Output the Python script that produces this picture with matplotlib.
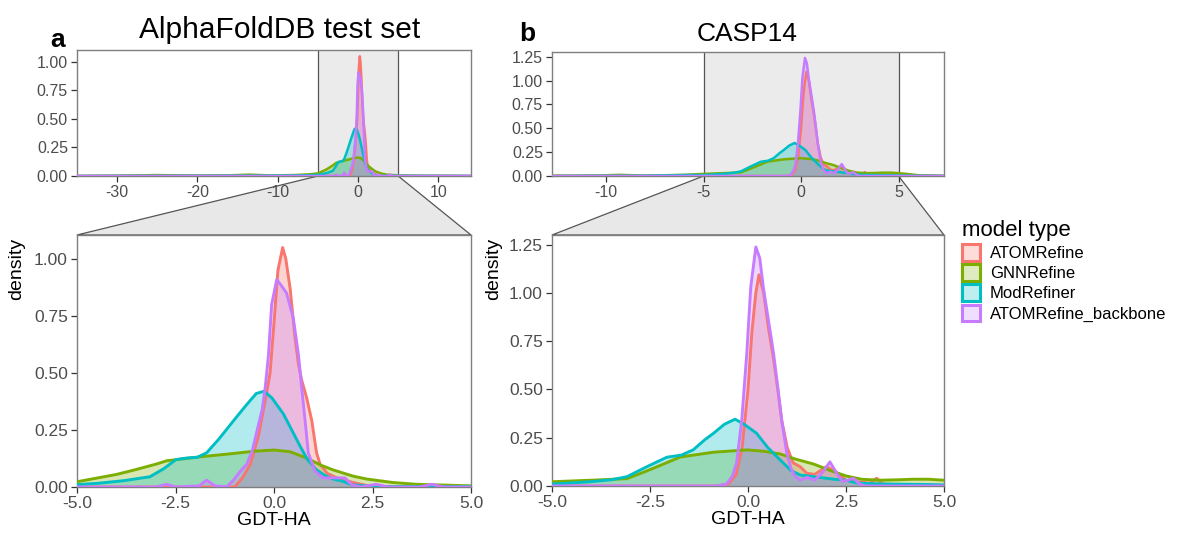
"""Density of GDT-HA change per refinement model: AlphaFoldDB test set and CASP14, with zoomed insets."""
import matplotlib
matplotlib.use("Agg")
import matplotlib.pyplot as plt
from matplotlib.patches import Polygon, Patch
from matplotlib.colors import to_rgba

plt.rcParams["font.family"] = ["Liberation Sans", "DejaVu Sans"]
plt.rcParams["axes.unicode_minus"] = False

MODELS = ["ATOMRefine", "GNNRefine", "ModRefiner", "ATOMRefine_backbone"]
COLORS = ["#F8766D", "#7CAE00", "#00BFC4", "#C77CFF"]
TICK_CLR = "#4D4D4D"
BORDER = "#7F7F7F"
ZOOM_BG = "#EBEBEB"

# ── AlphaFoldDB test set (densities) ─────────────────────────────────────────
AF_ATOM_X = [-35, -5, -1.3, -1.0, -0.8, -0.6, -0.4, -0.2, -0.1, 0.0, 0.1, 0.22, 0.3, 0.41,
             0.53, 0.62, 0.70, 0.83, 0.96, 1.08, 1.17, 1.35, 1.6, 2.0, 2.4, 3.0, 14]
AF_ATOM_Y = [0, 0, 0, 0.0, 0.04, 0.10, 0.22, 0.40, 0.50, 0.72, 0.95, 1.05, 1.0, 0.87,
             0.66, 0.54, 0.47, 0.39, 0.29, 0.15, 0.10, 0.06, 0.04, 0.02, 0.005, 0, 0]

AF_GNN_X = [-35, -30, -25, -20, -16, -13.5, -11, -8, -6, -5, -4, -3.56, -3, -2.72, -2,
            -1.03, -0.5, 0.0, 0.4, 0.84, 1.2, 1.5, 2.0, 2.35, 3.0, 3.6, 5, 8, 14]
AF_GNN_Y = [0, 0.003, 0.008, 0.004, 0.006, 0.012, 0.005, 0.008, 0.015, 0.023, 0.055, 0.074,
            0.10, 0.115, 0.13, 0.147, 0.157, 0.162, 0.155, 0.126, 0.095, 0.075, 0.048, 0.035,
            0.02, 0.012, 0.005, 0.002, 0]

AF_MOD_X = [-35, -10, -7, -5, -4.42, -3.8, -3.15, -2.8, -2.49, -2.22, -1.95, -1.71, -1.4,
            -1.03, -0.7, -0.45, -0.25, -0.05, 0.24, 0.45, 0.66, 0.85, 1.08, 1.3, 1.5, 1.75,
            1.97, 2.5, 14]
AF_MOD_Y = [0, 0.003, 0.005, 0.01, 0.017, 0.028, 0.045, 0.08, 0.12, 0.127, 0.13, 0.15, 0.21,
            0.29, 0.36, 0.41, 0.42, 0.39, 0.32, 0.25, 0.18, 0.12, 0.075, 0.05, 0.035, 0.025,
            0.01, 0.002, 0]

AF_BB_X = [-35, -3.0, -2.72, -2.5, -1.9, -1.71, -1.5, -1.2, -1.03, -0.85, -0.69, -0.55, -0.44,
           -0.3, -0.22, -0.14, -0.06, 0.07, 0.2, 0.32, 0.49, 0.62, 0.70, 0.79, 0.87, 1.04,
           1.24, 1.5, 1.8, 1.97, 2.2, 2.6, 2.9, 3.7, 4.0, 4.3, 14]
AF_BB_Y = [0, 0, 0.012, 0, 0.005, 0.03, 0.005, 0, 0.03, 0.07, 0.10, 0.16, 0.24, 0.34, 0.44,
           0.58, 0.80, 0.91, 0.88, 0.85, 0.74, 0.58, 0.44, 0.29, 0.15, 0.07, 0.04, 0.04,
           0.04, 0.01, 0, 0.012, 0, 0, 0.012, 0, 0]

# ── CASP14 ───────────────────────────────────────────────────────────────────
CA_ATOM_X = [-12.8, -0.8, -0.5, -0.3, -0.15, 0.0, 0.1, 0.2, 0.28, 0.4, 0.52, 0.65, 0.76,
             0.86, 1.0, 1.15, 1.33, 1.5, 1.7, 2.0, 2.2, 2.5, 2.9, 3.1, 3.28, 3.45, 4.0, 7.3]
CA_ATOM_Y = [0, 0, 0.01, 0.06, 0.20, 0.50, 0.80, 1.0, 1.094, 1.0, 0.82, 0.66, 0.50, 0.34,
             0.20, 0.12, 0.10, 0.066, 0.06, 0.10, 0.08, 0.03, 0.02, 0.015, 0.04, 0.01, 0.005, 0]

CA_GNN_X = [-12.8, -10.5, -9.3, -8, -6, -5, -4, -3.09, -2.58, -2.2, -1.73, -0.88, -0.03,
            0.4, 0.82, 1.2, 1.67, 2.1, 2.5, 2.9, 3.35, 3.8, 4.2, 4.6, 5, 5.5, 6, 7.3]
CA_GNN_Y = [0.003, 0.005, 0.012, 0.004, 0.012, 0.022, 0.03, 0.038, 0.078, 0.11, 0.15, 0.175,
            0.187, 0.18, 0.166, 0.14, 0.114, 0.08, 0.052, 0.035, 0.03, 0.032, 0.035, 0.035,
            0.03, 0.02, 0.008, 0.003]

CA_MOD_X = [-12.8, -8, -6, -5, -4.03, -3.5, -3.09, -2.58, -2.07, -1.7, -1.4, -1.1, -0.88,
            -0.6, -0.33, -0.1, 0.22, 0.5, 0.82, 1.1, 1.33, 1.8, 2.2, 2.5, 2.8, 3.5, 4.5,
            5.5, 7.3]
CA_MOD_Y = [0, 0.003, 0.01, 0.01, 0.022, 0.032, 0.048, 0.10, 0.149, 0.16, 0.187, 0.24, 0.273,
            0.32, 0.346, 0.32, 0.273, 0.20, 0.135, 0.08, 0.057, 0.045, 0.035, 0.03, 0.015,
            0.01, 0.008, 0.003, 0]

CA_BB_X = [-12.8, -0.8, -0.55, -0.4, -0.29, -0.16, -0.03, 0.07, 0.20, 0.30, 0.39, 0.52, 0.65,
           0.76, 0.86, 0.99, 1.1, 1.2, 1.33, 1.5, 1.7, 1.9, 2.09, 2.25, 2.4, 2.55, 2.69, 2.85,
           3.0, 7.3]
CA_BB_Y = [0, 0, 0.01, 0.05, 0.12, 0.34, 0.69, 1.03, 1.238, 1.18, 1.03, 0.86, 0.69, 0.51,
           0.34, 0.17, 0.09, 0.05, 0.03, 0.045, 0.03, 0.07, 0.125, 0.07, 0.025, 0.03, 0.04,
           0.01, 0, 0]

AF_CURVES = [(AF_ATOM_X, AF_ATOM_Y), (AF_GNN_X, AF_GNN_Y), (AF_MOD_X, AF_MOD_Y), (AF_BB_X, AF_BB_Y)]
CA_CURVES = [(CA_ATOM_X, CA_ATOM_Y), (CA_GNN_X, CA_GNN_Y), (CA_MOD_X, CA_MOD_Y), (CA_BB_X, CA_BB_Y)]

AF_TOP_XTICKS = [-30, -20, -10, 0, 10]
CA_TOP_XTICKS = [-10, -5, 0, 5]
AF_YTICKS = [0, 0.25, 0.5, 0.75, 1.0]
CA_YTICKS = [0, 0.25, 0.5, 0.75, 1.0, 1.25]
ZOOM_XTICKS = [-5, -2.5, 0, 2.5, 5]
ZOOM_RANGE = (-5, 5)

W, H = 1180, 536


def px_axes(fig, x0, y0, x1, y1):
    return fig.add_axes([x0 / W, 1 - y1 / H, (x1 - x0) / W, (y1 - y0) / H])


def draw_densities(ax, curves, lw):
    for (x, y), c in zip(curves, COLORS):
        ax.fill_between(x, 0, y, color=c, alpha=0.3, lw=0, zorder=2)
        ax.plot(x, y, color=c, lw=lw, zorder=3, solid_capstyle="round",
                solid_joinstyle="round")


def style(ax, xticks, yticks, xfmt, fs):
    for s in ax.spines.values():
        s.set_edgecolor(BORDER)
        s.set_linewidth(1.0)
    ax.set_xticks(xticks)
    ax.set_xticklabels([xfmt.format(v) for v in xticks])
    ax.set_yticks(yticks)
    ax.set_yticklabels([f"{v:.2f}" for v in yticks])
    ax.tick_params(length=4.5, width=0.9, color="#333333", labelcolor=TICK_CLR,
                   labelsize=fs, pad=2)


fig = plt.figure(figsize=(W / 100, H / 100), dpi=100, facecolor="white")

panels = [
    # curves, top box, bottom box, top xlim, top xticks, ylim, yticks
    (AF_CURVES, (77, 50, 471, 176), (77, 235, 471, 487), (-35, 14.07), AF_TOP_XTICKS,
     (0, 1.105), AF_YTICKS),
    (CA_CURVES, (552, 52, 944, 176), (552, 235, 944, 486), (-12.77, 7.33), CA_TOP_XTICKS,
     (0, 1.30), CA_YTICKS),
]

for curves, tbox, bbox, txlim, txticks, ylim, yticks in panels:
    ax_t = px_axes(fig, *tbox)
    ax_t.axvspan(*ZOOM_RANGE, color=ZOOM_BG, zorder=0, lw=0)
    for xv in ZOOM_RANGE:
        ax_t.axvline(xv, color="#555555", lw=0.9, zorder=1)
    draw_densities(ax_t, curves, 1.8)
    ax_t.set_xlim(*txlim)
    ax_t.set_ylim(*ylim)
    style(ax_t, txticks, yticks, "{:.0f}", 11.5)

    ax_b = px_axes(fig, *bbox)
    draw_densities(ax_b, curves, 2.1)
    ax_b.set_xlim(*ZOOM_RANGE)
    ax_b.set_ylim(*ylim)
    style(ax_b, ZOOM_XTICKS, yticks, "{:.1f}", 12.5)
    ax_b.set_xlabel("GDT-HA", fontsize=14, labelpad=1)

    # zoom trapezoid linking the shaded band to the lower panel
    inv = fig.transFigure.inverted()
    p0 = inv.transform(ax_t.transData.transform((ZOOM_RANGE[0], 0)))
    p1 = inv.transform(ax_t.transData.transform((ZOOM_RANGE[1], 0)))
    q0 = inv.transform(ax_b.transAxes.transform((0, 1)))
    q1 = inv.transform(ax_b.transAxes.transform((1, 1)))
    fig.patches.append(Polygon([p0, p1, q1, q0], closed=True, transform=fig.transFigure,
                               facecolor="#E8E8E8", edgecolor="#555555", lw=0.9, zorder=-1))

fig.text(17 / W, 1 - 269 / H, "density", rotation=90, ha="center", va="center", fontsize=14)
fig.text(494 / W, 1 - 269 / H, "density", rotation=90, ha="center", va="center", fontsize=14)

fig.text(280 / W, 1 - 38 / H, "AlphaFoldDB test set", ha="center", va="baseline", fontsize=21.5)
fig.text(747 / W, 1 - 41 / H, "CASP14", ha="center", va="baseline", fontsize=19)
fig.text(50 / W, 1 - 47 / H, "a", ha="left", va="baseline", fontsize=19, fontweight="bold")
fig.text(519 / W, 1 - 41 / H, "b", ha="left", va="baseline", fontsize=19, fontweight="bold")

handles = [Patch(facecolor=to_rgba(c, 0.25), edgecolor=c, lw=2.2) for c in COLORS]
fig.legend(handles, MODELS, title="model type", loc="upper left",
           bbox_to_anchor=(950 / W, 1 - 208 / H), frameon=False, fontsize=12,
           title_fontsize=16, handlelength=1.1, handleheight=1.15, labelspacing=0.2,
           handletextpad=0.6, alignment="left", borderpad=0.2)

fig.savefig("out.png", dpi=100, facecolor="white")
